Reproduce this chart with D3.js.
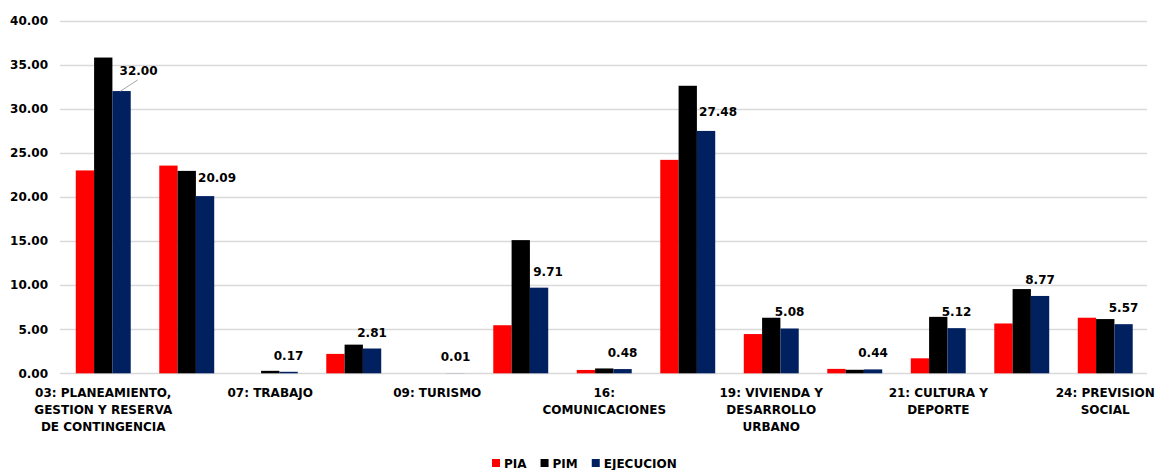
<!DOCTYPE html>
<html>
<head>
<meta charset="utf-8">
<script src="https://cdn.jsdelivr.net/npm/d3@7"></script>
<style>
  html, body { margin: 0; padding: 0; background: #fff; }
  svg text { font-family: "DejaVu Sans", sans-serif; font-weight: bold; }
</style>
</head>
<body>
<svg id="chart" width="1155" height="470"></svg>
<script>
// Functional budget categories (millions)
const categories = [
  "03: PLANEAMIENTO, GESTION Y RESERVA DE CONTINGENCIA",
  "05: ORDEN PUBLICO Y SEGURIDAD",
  "07: TRABAJO",
  "08: COMERCIO",
  "09: TURISMO",
  "15: TRANSPORTE",
  "16: COMUNICACIONES",
  "18: SANEAMIENTO",
  "19: VIVIENDA Y DESARROLLO URBANO",
  "20: SALUD",
  "21: CULTURA Y DEPORTE",
  "22: EDUCACION",
  "24: PREVISION SOCIAL"
];

// Axis labels as they are wrapped under the chart (every second category)
const tickLabels = [
  ["03: PLANEAMIENTO,", "GESTION Y RESERVA", "DE CONTINGENCIA"],
  null,
  ["07: TRABAJO"],
  null,
  ["09: TURISMO"],
  null,
  ["16:", "COMUNICACIONES"],
  null,
  ["19: VIVIENDA Y", "DESARROLLO", "URBANO"],
  null,
  ["21: CULTURA Y", "DEPORTE"],
  null,
  ["24: PREVISION", "SOCIAL"]
];

const seriesNames = ["PIA", "PIM", "EJECUCION"];
const pia       = [23.0, 23.55, 0.0, 2.2, 0.0, 5.45, 0.38, 24.2, 4.45, 0.5, 1.7, 5.65, 6.3];
const pim       = [35.8, 22.95, 0.28, 3.25, 0.0, 15.1, 0.55, 32.6, 6.3, 0.4, 6.4, 9.55, 6.15];
const ejecucion = [32.00, 20.09, 0.17, 2.81, 0.01, 9.71, 0.48, 27.48, 5.08, 0.44, 5.12, 8.77, 5.57];

const yTicks = [0, 5, 10, 15, 20, 25, 30, 35, 40];
const colors = ["#FF0000", "#000000", "#002060"];

const values = [pia, pim, ejecucion];

const svg = d3.select("#chart");
const W = 1155, H = 470;
const margin = { left: 60, right: 8, top: 20.5, bottom: 96.7 };
const FS = 12;

const x0 = d3.scaleBand()
  .domain(d3.range(categories.length))
  .range([61.5, W - margin.right])
  .paddingInner(0.342)
  .paddingOuter(0.171);

const x1 = d3.scaleBand()
  .domain(d3.range(seriesNames.length))
  .range([0, x0.bandwidth()]);

const y = d3.scaleLinear()
  .domain([0, 40])
  .range([H - margin.bottom, margin.top]);

// Gridlines
svg.append("g")
  .selectAll("line")
  .data(yTicks)
  .join("line")
  .attr("x1", margin.left)
  .attr("x2", W - margin.right)
  .attr("y1", d => Math.round(y(d)) + 0.5)
  .attr("y2", d => Math.round(y(d)) + 0.5)
  .attr("stroke", "#D9D9D9")
  .attr("stroke-width", 1.3);

// Y axis labels
const yAxis = d3.axisLeft(y).tickValues(yTicks).tickFormat(d3.format(".2f")).tickSize(0).tickPadding(12);
const gy = svg.append("g").attr("transform", `translate(${margin.left},0)`).call(yAxis);
gy.select(".domain").remove();
gy.selectAll("text").attr("font-size", FS).attr("fill", "#000")
  .style("font-family", "DejaVu Sans").style("font-weight", "bold");

// Bars
const groups = svg.append("g")
  .selectAll("g")
  .data(categories.map((c, i) => i))
  .join("g")
  .attr("transform", i => `translate(${x0(i)},0)`);

groups.selectAll("rect")
  .data(i => seriesNames.map((s, k) => ({ k, v: values[k][i] })))
  .join("rect")
  .attr("x", d => x1(d.k))
  .attr("width", x1.bandwidth())
  .attr("y", d => y(d.v))
  .attr("height", d => y(0) - y(d.v))
  .attr("fill", d => colors[d.k]);

// Value labels for EJECUCION; a few are pushed aside to clear the taller bar
const nudge = {
  0: { dx: 17, dy: -4, leader: true },
  1: { dx: 12, dy: -2 },
  5: { dx: 9, dy: 0 },
  7: { dx: 12, dy: -3 }
};
const labels = svg.append("g");
ejecucion.forEach((v, i) => {
  const cx = x0(i) + x1(2) + x1.bandwidth() / 2;
  const top = y(v);
  const n = nudge[i] || { dx: 0, dy: 0 };
  const tx = cx + n.dx, ty = top - 12 + n.dy;
  if (n.leader) {
    labels.append("line")
      .attr("x1", cx - 1).attr("y1", top)
      .attr("x2", tx - 1).attr("y2", ty + 5)
      .attr("stroke", "#A6A6A6").attr("stroke-width", 1);
  }
  labels.append("text")
    .attr("x", tx).attr("y", ty)
    .attr("text-anchor", "middle")
    .attr("font-size", FS)
    .attr("fill", "#000")
    .text(d3.format(".2f")(v));
});

// Category labels
const xl = svg.append("g");
tickLabels.forEach((lines, i) => {
  if (!lines) return;
  const cx = x0(i) + x0.bandwidth() / 2;
  const t = xl.append("text")
    .attr("x", cx)
    .attr("y", y(0) + 24)
    .attr("text-anchor", "middle")
    .attr("font-size", FS)
    .attr("fill", "#000");
  lines.forEach((ln, j) => {
    t.append("tspan")
      .attr("x", cx)
      .attr("dy", j === 0 ? 0 : 17)
      .text(ln);
  });
});

// Legend
const legend = svg.append("g").attr("transform", "translate(492,463)");
let lx = 0;
seriesNames.forEach((s, k) => {
  const g = legend.append("g");
  g.append("rect").attr("x", lx).attr("y", -4).attr("width", 8).attr("height", 8).attr("fill", colors[k]);
  const t = g.append("text").attr("x", lx + 12).attr("y", 4.5).attr("font-size", FS).attr("fill", "#000").text(s);
  lx += 12 + t.node().getComputedTextLength() + 14;
});
</script>
</body>
</html>
